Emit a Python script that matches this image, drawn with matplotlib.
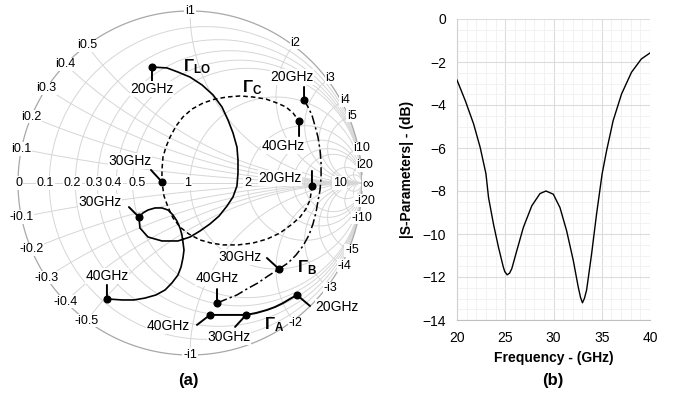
import numpy as np
import matplotlib
matplotlib.use("Agg")
import matplotlib.pyplot as plt

plt.rcParams['font.family'] = ['Liberation Sans', 'DejaVu Sans']
plt.rcParams['mathtext.fontset'] = 'custom'
plt.rcParams['mathtext.rm'] = 'Liberation Sans'
plt.rcParams['mathtext.bf'] = 'Liberation Sans:bold'

# ---- smith chart grid ----
r_grid = [0.1, 0.2, 0.3, 0.4, 0.5, 1, 2, 3, 4, 5, 10, 20]
x_grid = [0.1, 0.2, 0.3, 0.4, 0.5, 1, 2, 3, 4, 5, 10, 20]
r_label_vals = [0, 0.1, 0.2, 0.3, 0.4, 0.5, 1, 2, 10]
r_label_txt = ['0', '0.1', '0.2', '0.3', '0.4', '0.5', '1', '2', '10']
r_label_nudge = [1, -4, -3, -3, -3, 4, -2, 0, 9]   # px, keeps labels apart
x_label_vals = [0.1, 0.2, 0.3, 0.4, 0.5, 1, 2, 3, 4, 5, 10, 20]
x_label_txt = ['0.1', '0.2', '0.3', '0.4', '0.5', '1', '2', '3', '4', '5', '10', '20']

# ---- reflection coefficient traces (Re, Im of Gamma), 20 -> 40 GHz ----
lo_re = [-0.221, -0.134, -0.070, 0.000, 0.070, 0.134, 0.186, 0.221, 0.250, 0.273, 0.279,
         0.279, 0.273, 0.250, 0.215, 0.169, 0.116, 0.058, 0.000, -0.070, -0.163, -0.244,
         -0.291, -0.297, -0.273, -0.244, -0.203, -0.163, -0.128, -0.099, -0.076, -0.058,
         -0.047, -0.041, -0.035, -0.041, -0.052, -0.070, -0.105, -0.145, -0.198, -0.262,
         -0.326, -0.395, -0.483]
lo_im = [0.674, 0.669, 0.645, 0.616, 0.570, 0.512, 0.442, 0.366, 0.291, 0.209, 0.134,
         0.058, -0.017, -0.081, -0.134, -0.192, -0.238, -0.279, -0.314, -0.337, -0.337, -0.314,
         -0.262, -0.198, -0.174, -0.157, -0.145, -0.145, -0.157, -0.186, -0.221, -0.262,
         -0.302, -0.343, -0.390, -0.436, -0.488, -0.535, -0.581, -0.622, -0.651, -0.669,
         -0.680, -0.680, -0.674]
lo_marks = [0, 23, 44]

c_re = [0.709, 0.698, 0.674, 0.640, 0.587, 0.523, 0.448, 0.366, 0.279, 0.192, 0.122, 0.058,
        -0.006, -0.058, -0.099, -0.128, -0.151, -0.163, -0.163, -0.157, -0.140, -0.116, -0.081,
        -0.041, 0.012, 0.076, 0.145, 0.215, 0.291, 0.366, 0.442, 0.506, 0.558, 0.599, 0.634]
c_im = [-0.017, -0.099, -0.151, -0.198, -0.244, -0.291, -0.326, -0.349, -0.360, -0.360, -0.349,
        -0.331, -0.297, -0.256, -0.203, -0.140, -0.076, 0.006, 0.076, 0.151, 0.209, 0.267, 0.331,
        0.384, 0.430, 0.465, 0.488, 0.500, 0.506, 0.500, 0.488, 0.465, 0.442, 0.407, 0.360]
c_marks = [0, 17, 34]

b_re = [0.663, 0.686, 0.709, 0.727, 0.744, 0.756, 0.762, 0.762, 0.756, 0.744, 0.733, 0.715,
        0.692, 0.657, 0.616, 0.570, 0.517, 0.453, 0.395, 0.331, 0.273, 0.215, 0.157]
b_im = [0.483, 0.442, 0.395, 0.331, 0.267, 0.192, 0.116, 0.035, -0.041, -0.105, -0.169, -0.238,
        -0.302, -0.366, -0.419, -0.465, -0.500, -0.541, -0.581, -0.616, -0.651, -0.674, -0.698]
b_marks = [0, 16, 22]

a_re = [0.622, 0.581, 0.541, 0.494, 0.448, 0.384, 0.326, 0.221, 0.116]
a_im = [-0.651, -0.674, -0.698, -0.721, -0.738, -0.756, -0.767, -0.767, -0.767]
a_marks = [0, 6, 8]

freq_labels = ['20GHz', '30GHz', '40GHz']

# ---- S-parameter curve ----
freq = [20.0, 20.86, 21.72, 22.4, 23.0, 23.27, 23.78, 24.3, 24.8, 24.95, 25.2, 25.45, 25.68,
        26.2, 26.88, 27.75, 28.6, 29.22, 29.98, 30.67, 31.36, 32.05, 32.56, 32.8, 33.0, 33.2,
        33.43, 33.95, 34.46, 35.04, 35.5, 36.18, 37.05, 38.08, 39.1, 40.0]
s_db = [-2.84, -3.80, -4.88, -5.97, -7.2, -8.31, -9.54, -10.62, -11.54, -11.75, -11.9, -11.82,
        -11.61, -10.77, -9.69, -8.69, -8.12, -8.0, -8.15, -8.77, -9.85, -11.23, -12.46, -12.95,
        -13.2, -13.0, -12.61, -10.92, -9.08, -7.2, -6.13, -4.73, -3.49, -2.48, -1.86, -1.58]


def gamma(z):
    return (z - 1) / (z + 1)


fig = plt.figure(figsize=(6.73, 3.93), dpi=100)

# smith axes: unit circle centred at (190, 183) px with radius 172 px
PX = 1 / 172.0
ax = fig.add_axes([0, 1 - 366 / 393, 380 / 673, 366 / 393])
ax.set_xlim(-190 * PX, 190 * PX)
ax.set_ylim(-183 * PX, 183 * PX)
ax.axis('off')

grid_col = '#d6d6d6'
phi = np.linspace(0, 2 * np.pi, 400)
for r in r_grid:
    c = r / (1 + r)
    rad = 1 / (1 + r)
    ax.plot(c + rad * np.cos(phi), rad * np.sin(phi), color=grid_col, lw=0.7, zorder=1)
s = np.tan(np.linspace(0, np.pi / 2 - 1e-4, 400))
for x in x_grid:
    for sign in (1, -1):
        g = gamma(s + 1j * sign * x)
        ax.plot(g.real, g.imag, color=grid_col, lw=0.7, zorder=1)
ax.plot([-1, 1], [0, 0], color=grid_col, lw=0.7, zorder=1)
ax.plot(np.cos(phi), np.sin(phi), color='#a8a8a8', lw=0.9, zorder=1)

lbl_box = dict(boxstyle='square,pad=0.05', fc='white', ec='none')
for v, t, n in zip(r_label_vals, r_label_txt, r_label_nudge):
    g = gamma(v)
    ax.text(g + n * PX, 0, t, fontsize=9, ha='center', va='center', bbox=lbl_box, zorder=3)
ax.text(1 + 6 * PX, 0, '∞', fontsize=11, ha='center', va='center', bbox=lbl_box, zorder=3)
for v, t in zip(x_label_vals, x_label_txt):
    for sign, pre in ((1, 'i'), (-1, '-i')):
        g = gamma(1j * sign * v)
        k = 1.02 if g.real > 0.3 else 1.0
        ax.text(g.real * k, g.imag * k, pre + t, fontsize=9, ha='center', va='center',
                bbox=lbl_box, zorder=3)

# traces
ax.plot(lo_re, lo_im, color='black', lw=1.2, zorder=4)
ax.plot(c_re, c_im, color='black', lw=1.1, ls=(0, (3, 2)), zorder=4)
ax.plot(b_re, b_im, color='black', lw=1.1, ls=(0, (6, 2, 1.5, 2)), zorder=4)
ax.plot(a_re, a_im, color='black', lw=1.4, zorder=4)
for re, im, mk in ((lo_re, lo_im, lo_marks), (c_re, c_im, c_marks),
                   (b_re, b_im, b_marks), (a_re, a_im, a_marks)):
    ax.plot([re[i] for i in mk], [im[i] for i in mk], 'o', color='black', ms=4.8, zorder=5)

txt_box = dict(boxstyle='square,pad=0.05', fc='white', ec='none')


def callout(re, im, idx, text, leader, offset):
    # leader / offset given in pixels (x right, y up)
    xy = (re[idx], im[idx])
    lead = (leader[0] * 0.72, leader[1] * 0.72)
    ax.annotate('', xy=xy, xytext=lead, textcoords='offset points',
                arrowprops=dict(arrowstyle='-', color='black', lw=1.4, shrinkA=0, shrinkB=0),
                zorder=5)
    ax.annotate(text, xy=xy, xytext=(offset[0] * 0.72, offset[1] * 0.72),
                textcoords='offset points', fontsize=10, ha='center', va='center',
                bbox=txt_box, zorder=6)


callout(lo_re, lo_im, lo_marks[0], freq_labels[0], (0, -14), (0, -22))
callout(lo_re, lo_im, lo_marks[1], freq_labels[1], (-10, 10), (-39, 15))
callout(lo_re, lo_im, lo_marks[2], freq_labels[2], (0, 14), (0, 23))
callout(c_re, c_im, c_marks[0], freq_labels[0], (0, 15), (-32, 8))
callout(c_re, c_im, c_marks[1], freq_labels[1], (-11, 12), (-32, 21))
callout(c_re, c_im, c_marks[2], freq_labels[2], (0, -15), (-16, -25))
callout(b_re, b_im, b_marks[0], freq_labels[0], (0, 13), (-12, 23))
callout(b_re, b_im, b_marks[1], freq_labels[1], (-12, 11), (-39, 12))
callout(b_re, b_im, b_marks[2], freq_labels[2], (0, 14), (0, 25))
callout(a_re, a_im, a_marks[0], freq_labels[0], (13, -11), (40, -12))
callout(a_re, a_im, a_marks[1], freq_labels[1], (-11, -12), (-17, -22))
callout(a_re, a_im, a_marks[2], freq_labels[2], (-13, -10), (-42, -11))

gam_kw = dict(fontsize=12, ha='center', va='center', zorder=6)
ax.text(0.041, 0.674, r'$\mathbf{\Gamma_{LO}}$', **gam_kw)
ax.text(0.360, 0.552, r'$\mathbf{\Gamma_{C}}$', **gam_kw)
ax.text(0.680, -0.494, r'$\mathbf{\Gamma_{B}}$', **gam_kw)
ax.text(0.488, -0.826, r'$\mathbf{\Gamma_{A}}$', **gam_kw)

fig.text(188 / 673, 1 - 381 / 393, '(a)', fontsize=12, fontweight='bold', ha='center', va='center')

# ---- S-parameter plot ----
ax2 = fig.add_axes([457 / 673, 1 - 320 / 393, 193 / 673, 301 / 393])
ax2.plot(freq, s_db, color='black', lw=1.0, zorder=3)
ax2.set_xlim(20, 40)
ax2.set_ylim(-14, 0)
ax2.set_xticks([20, 25, 30, 35, 40])
ax2.set_yticks([0, -2, -4, -6, -8, -10, -12, -14])
ax2.set_xticks(np.arange(20, 41, 1), minor=True)
ax2.set_yticks(np.arange(-14, 0.1, 0.5), minor=True)
ax2.grid(which='major', color='#dcdcdc', lw=0.8)
ax2.grid(which='minor', color='#f0f0f0', lw=0.6)
ax2.set_axisbelow(True)
for side in ('top', 'right'):
    ax2.spines[side].set_visible(False)
ax2.spines['left'].set_color('#d0d0d0')
ax2.spines['bottom'].set_color('#bfbfbf')
ax2.tick_params(which='both', length=0, labelsize=10, pad=8)
ax2.set_xlabel('Frequency - (GHz)', fontsize=10, fontweight='bold', labelpad=4)
ax2.set_ylabel('|S-Parameters| - (dB)', fontsize=10, fontweight='bold', labelpad=6)

fig.text(553 / 673, 1 - 381 / 393, '(b)', fontsize=12, fontweight='bold', ha='center', va='center')

fig.savefig('out.png', dpi=100)
